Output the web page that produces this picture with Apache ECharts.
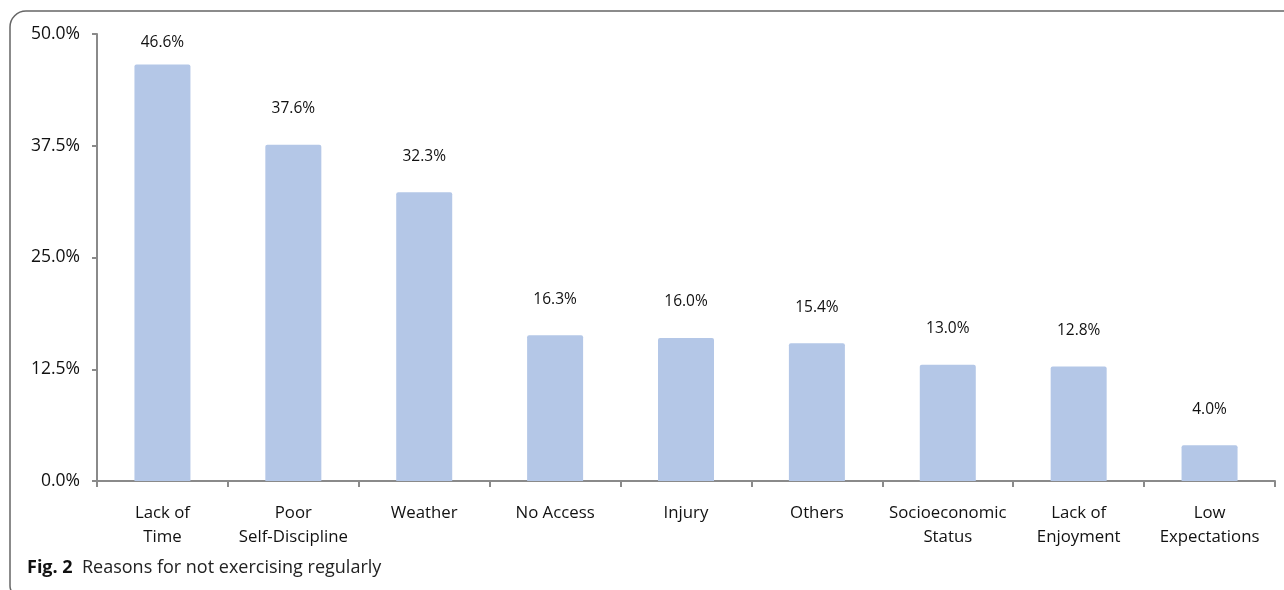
<!DOCTYPE html>
<html><head><meta charset="utf-8">
<script src="https://cdn.jsdelivr.net/npm/echarts@6/dist/echarts.min.js"></script>
<style>html,body{margin:0;padding:0;background:#fff}#c{width:1284px;height:590px}</style>
</head><body><div id="c"></div>
<script>
const categories = ['Lack of\nTime','Poor\nSelf-Discipline','Weather','No Access','Injury','Others','Socioeconomic\nStatus','Lack of\nEnjoyment','Low\nExpectations'];
const values = [46.6, 37.6, 32.3, 16.3, 16.0, 15.4, 13.0, 12.8, 4.0];
const yTicks = [0, 12.5, 25, 37.5, 50];

const font = '"Open Sans", "Noto Sans", sans-serif';
const chart = echarts.init(document.getElementById('c'));
chart.setOption({
  animation: false,
  grid: {left: 97, right: 9, top: 34, bottom: 109},
  xAxis: {
    type: 'category', data: categories, boundaryGap: true,
    axisLine: {lineStyle: {color: '#8a8a8a', width: 2}},
    axisTick: {show: true, length: 6, lineStyle: {color: '#8a8a8a', width: 2}},
    axisLabel: {color: '#111', fontFamily: font, fontSize: 16.8, lineHeight: 24, margin: 20, interval: 0}
  },
  yAxis: {
    type: 'value', min: yTicks[0], max: yTicks[yTicks.length-1], interval: 12.5,
    splitLine: {show: false},
    axisLine: {show: true, lineStyle: {color: '#8a8a8a', width: 2}},
    axisTick: {show: true, length: 5, lineStyle: {color: '#8a8a8a', width: 2}},
    axisLabel: {color: '#111', fontFamily: font, fontSize: 17.5, margin: 17, formatter: v => v.toFixed(1) + '%'}
  },
  series: [{
    type: 'bar', barWidth: 56,
    data: values.map((v, i) => i === 0 ? {value: v, label: {distance: 14}} : v),
    itemStyle: {color: '#b4c7e7', borderRadius: [2,2,0,0]},
    label: {show: true, position: 'top', distance: 28, color: '#111', fontFamily: font, fontSize: 15.5, formatter: p => p.value.toFixed(1) + '%'}
  }],
  graphic: [
    {type: 'rect', shape: {x: 10, y: 11, width: 2000, height: 585, r: [16, 0, 0, 10]},
     style: {fill: null, stroke: '#666', lineWidth: 1.5}, silent: true},
    {type: 'text', left: 27, top: 559,
     style: {text: '{b|Fig. 2}  Reasons for not exercising regularly', rich: {b: {fontWeight: 'bold', fontSize: 18, fontFamily: font, fill: '#111'}},
       fontSize: 18, fontFamily: font, fill: '#222'}}
  ]
});
</script></body></html>
